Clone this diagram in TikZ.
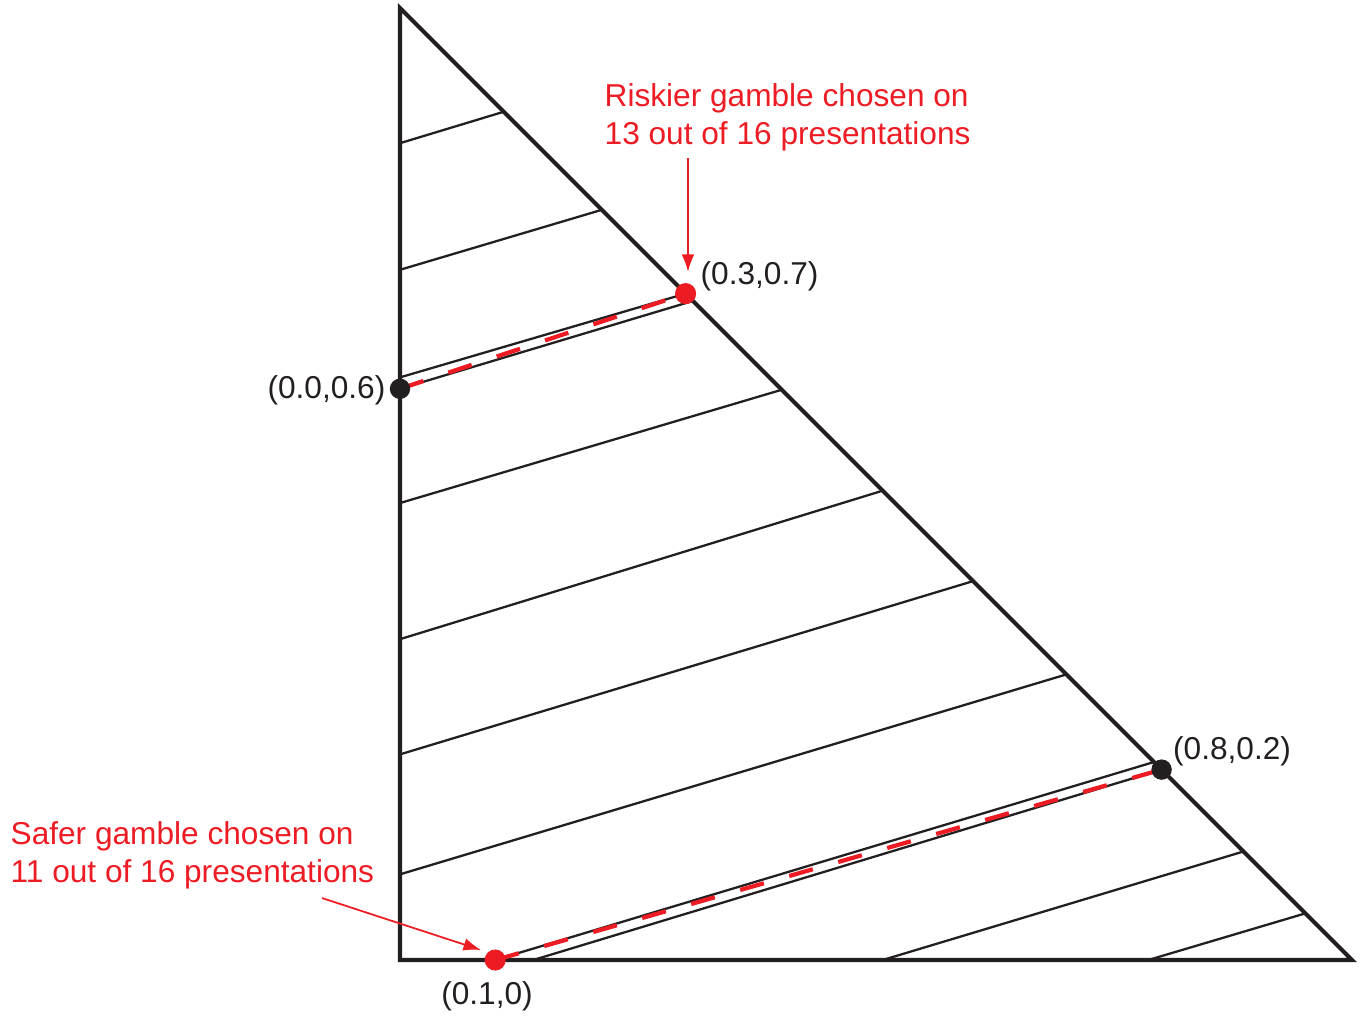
\documentclass[tikz,border=0pt]{standalone}
\usepackage{fontspec}
\setmainfont{Liberation Sans}
\usepackage{tikz}
\usetikzlibrary{positioning,arrows.meta}
\definecolor{gred}{HTML}{ED1C24}
\definecolor{gblack}{HTML}{231F20}

\begin{document}
\begin{tikzpicture}[x=9.52cm,y=9.52cm,
    edge/.style={draw=gblack,line width=1.15pt},
    indiff/.style={draw=gblack,line width=0.65pt},
    choice/.style={draw=gred,line width=1.2pt,dash pattern=on 7pt off 7.5pt},
    note/.style={text=gred,align=left,inner sep=0pt,font=\fontsize{9}{10.8}\selectfont},
    pt/.style={inner sep=0pt,font=\fontsize{9}{10.8}\selectfont,text=gblack},
    notearrow/.style={draw=gred,line width=0.5pt,-{Latex[length=5pt,width=3.6pt]}}]
    \useasboundingbox (-0.42017,-0.05777) rectangle (1.0084,1.0084);

    \coordinate (o) at (0,0);
    \coordinate (top) at (0,1);
    \coordinate (rgt) at (1,0);

    % gambles
    \coordinate (g06) at (0,0.6);
    \coordinate (g37) at (0.3,0.7);
    \coordinate (g10) at (0.1,0);
    \coordinate (g82) at (0.8,0.2);

    % indifference lines
    \draw[indiff] (0,0.858) -- (0.109,0.891);
    \draw[indiff] (0,0.725) -- (0.212,0.788);
    \draw[indiff] (0,0.612) -- (g37);
    \draw[indiff] (g06) -- (0.3077,0.6923);
    \draw[indiff] (0,0.480) -- (0.401,0.599);
    \draw[indiff] (0,0.337) -- (0.507,0.493);
    \draw[indiff] (0,0.216) -- (0.602,0.398);
    \draw[indiff] (0,0.090) -- (0.700,0.300);
    \draw[indiff] (g10) -- (0.792,0.208);
    \draw[indiff] (0.140,0) -- (g82);
    \draw[indiff] (0.507,0) -- (0.886,0.114);
    \draw[indiff] (0.786,0) -- (0.951,0.049);

    % triangle
    \draw[edge,line join=miter] (top) -- (o) -- (rgt) -- cycle;

    % chosen pairs
    \draw[choice] (g06) -- (g37);
    \draw[choice] (g10) -- (g82);

    \fill[gblack] (g06) circle (2.9pt);
    \fill[gblack] (g82) circle (2.9pt);
    \fill[gred] (g37) circle (3pt);
    \fill[gred] (g10) circle (3pt);

    \node[pt,anchor=east] (l06) at (-0.0147,0.5988) {(0.0,0.6)};
    \node[pt,anchor=west] (l37) at (0.3151,0.7185) {(0.3,0.7)};
    \node[pt] (l82) at (0.874,0.2196) {(0.8,0.2)};
    \node[pt] (l10) at (0.0914,-0.0378) {(0.1,0)};

    % notes
    \node[note,anchor=west] (risky) at (0.2143,0.8856) {Riskier gamble chosen on\\13 out of 16 presentations};
    \node[note,anchor=west] (safe) at (-0.4097,0.1103) {Safer gamble chosen on\\11 out of 16 presentations};

    \coordinate (rtail) at (0.3025,0.8424);
    \coordinate (rtip) at (0.3025,0.7227);
    \coordinate (stail) at (-0.0819,0.0651);
    \coordinate (stip) at (0.0851,0.0105);
    \draw[notearrow] (rtail) -- (rtip);
    \draw[notearrow] (stail) -- (stip);
\end{tikzpicture}
\end{document}
